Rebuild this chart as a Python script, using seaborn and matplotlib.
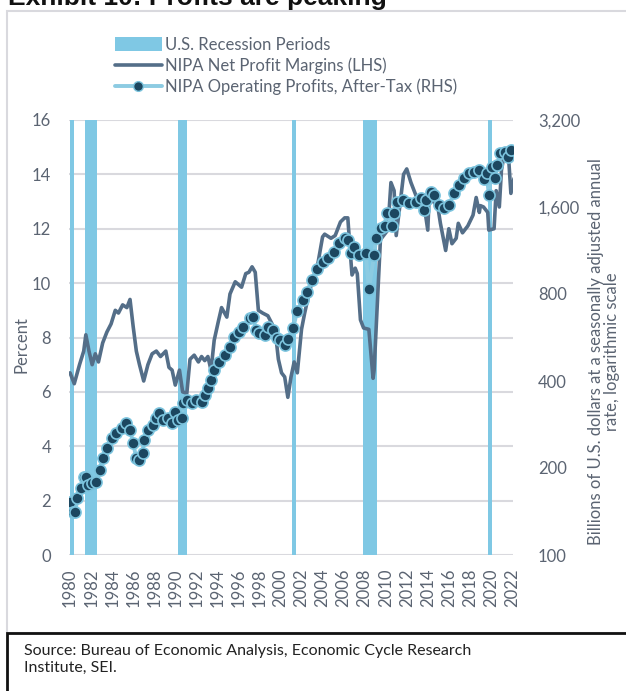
import matplotlib
matplotlib.use("Agg")
import matplotlib.pyplot as plt
import seaborn as sns
from matplotlib.patches import Rectangle, Patch
from matplotlib.lines import Line2D
from matplotlib.ticker import FixedLocator, FixedFormatter

# recession periods (decimal years)
rec_start = [1980.0, 1981.4, 1990.3, 2001.05, 2007.8, 2019.7]
rec_end = [1980.4, 1982.6, 1991.1, 2001.5, 2009.2, 2020.1]

# NIPA net profit margins, percent (LHS)
margin_year = [
    1980.0, 1980.4, 1980.9, 1981.3, 1981.5, 1981.8, 1982.1, 1982.4, 1982.7, 1983.1,
    1983.5, 1983.9, 1984.3, 1984.6, 1985.0, 1985.4, 1985.7, 1986.0, 1986.3, 1986.6,
    1987.0, 1987.4, 1987.8, 1988.2, 1988.6, 1989.1, 1989.4, 1989.7, 1990.0, 1990.4,
    1990.7, 1991.1, 1991.4, 1991.8, 1992.2, 1992.5, 1992.8, 1993.1, 1993.4, 1993.7,
    1994.1, 1994.4, 1994.9, 1995.2, 1995.7, 1996.3, 1996.7, 1997.0, 1997.3, 1997.6,
    1997.9, 1998.3, 1998.8, 1999.2, 1999.6, 1999.8, 2000.1, 2000.4, 2000.7, 2001.0,
    2001.3, 2001.6, 2002.0, 2002.3, 2002.7, 2003.1, 2003.5, 2004.0, 2004.2, 2004.8,
    2005.2, 2005.7, 2006.1, 2006.4, 2006.6, 2006.8, 2007.1, 2007.3, 2007.6, 2007.9,
    2008.4, 2008.8, 2008.9, 2009.3, 2009.5, 2010.2, 2010.5, 2010.8, 2011.0, 2011.3,
    2011.7, 2012.0, 2012.4, 2012.9, 2013.1, 2013.6, 2014.0, 2014.1, 2014.5, 2015.0,
    2015.2, 2015.7, 2016.0, 2016.3, 2016.7, 2016.9, 2017.3, 2017.8, 2018.3, 2018.6,
    2018.9, 2019.0, 2019.3, 2019.7, 2019.8, 2020.3, 2020.5, 2020.8, 2021.0, 2021.3,
    2021.7, 2021.9, 2022.2,
]
margin_pct = [
    6.7, 6.3, 7.0, 7.5, 8.1, 7.5, 7.0, 7.4, 7.1, 7.8,
    8.2, 8.5, 9.0, 8.9, 9.2, 9.1, 9.4, 8.4, 7.5, 7.0,
    6.4, 7.0, 7.4, 7.5, 7.3, 7.5, 6.9, 6.8, 6.25, 6.8,
    6.0, 5.95, 7.2, 7.35, 7.1, 7.3, 7.15, 7.3, 6.8, 7.9,
    8.6, 9.1, 8.75, 9.6, 10.05, 9.85, 10.35, 10.4, 10.6, 10.4,
    9.0, 8.9, 8.8, 8.5, 7.9, 7.2, 6.7, 6.55, 5.8, 6.55,
    7.1, 6.7, 8.3, 8.9, 9.6, 10.2, 10.6, 11.7, 11.8, 11.65,
    11.75, 12.25, 12.4, 12.4, 11.3, 10.3, 10.55, 10.35, 8.65, 8.35,
    8.3, 6.5, 6.8, 10.0, 11.6, 11.95, 13.7, 13.4, 11.75, 12.7,
    14.0, 14.2, 13.7, 13.2, 13.0, 13.0, 11.95, 12.9, 13.05, 12.7,
    12.2, 11.2, 12.0, 11.45, 11.65, 12.2, 11.85, 12.1, 12.5, 13.15,
    12.6, 12.85, 12.8, 12.6, 11.95, 12.0, 13.4, 12.8, 14.15, 14.8,
    14.5, 13.3, 13.85,
]

# NIPA operating profits after tax, billions of USD (RHS, log scale)
profit_year = [
    1980.0, 1980.3, 1980.5, 1980.7, 1981.0, 1981.3, 1981.5, 1981.7, 1982.1, 1982.5,
    1982.8, 1983.1, 1983.5, 1984.0, 1984.4, 1984.9, 1985.3, 1985.7, 1986.0, 1986.3,
    1986.6, 1986.9, 1987.0, 1987.4, 1987.9, 1988.2, 1988.5, 1988.8, 1989.3, 1989.7,
    1990.0, 1990.3, 1990.6, 1990.7, 1991.1, 1991.6, 1992.0, 1992.5, 1992.8, 1993.1,
    1993.4, 1993.7, 1994.2, 1994.7, 1995.2, 1995.6, 1996.1, 1996.4, 1997.1, 1997.4,
    1997.7, 1998.0, 1998.5, 1998.8, 1999.3, 1999.7, 2000.0, 2000.4, 2000.7, 2001.2,
    2001.6, 2002.1, 2002.5, 2003.0, 2003.5, 2004.0, 2004.5, 2005.1, 2005.6, 2006.1,
    2006.4, 2006.7, 2007.0, 2007.5, 2008.1, 2008.4, 2008.9, 2009.1, 2009.6, 2009.9,
    2010.1, 2010.6, 2010.8, 2011.1, 2011.6, 2012.2, 2012.9, 2013.4, 2013.6, 2013.8,
    2014.3, 2014.6, 2015.1, 2015.5, 2016.0, 2016.5, 2017.0, 2017.4, 2017.9, 2018.4,
    2018.9, 2019.3, 2019.6, 2019.8, 2020.1, 2020.4, 2020.6, 2020.9, 2021.3, 2021.6,
    2021.9,
]
profit_bn = [
    152, 141, 141, 157, 170, 186, 186, 175, 177, 179,
    197, 216, 234, 254, 264, 275, 286, 271, 244, 216,
    213, 225, 250, 271, 282, 298, 310, 293, 298, 286,
    312, 293, 298, 336, 344, 336, 344, 339, 358, 378,
    403, 437, 465, 492, 524, 570, 590, 614, 660, 665,
    600, 585, 577, 614, 600, 563, 555, 532, 560, 610,
    700, 760, 815, 895, 980, 1030, 1070, 1115, 1200, 1250,
    1230, 1110, 1165, 1090, 1110, 830, 1090, 1250, 1350, 1380,
    1530, 1380, 1520, 1660, 1690, 1650, 1660, 1720, 1560, 1690,
    1800, 1760, 1620, 1590, 1620, 1790, 1900, 2010, 2090, 2110,
    2150, 2000, 2100, 1760, 2200, 2010, 2230, 2460, 2480, 2380,
    2520,
]

left_ticks = [0, 2, 4, 6, 8, 10, 12, 14, 16]
right_ticks = [100, 200, 400, 800, 1600, 3200]
right_labels = ["100", "200", "400", "800", "1,600", "3,200"]
year_ticks = list(range(1980, 2023, 2))

REC_COLOR = "#7FC8E4"
MARGIN_COLOR = "#546E88"
PROFIT_LINE = "#8CCBE2"
PROFIT_MARK = "#1C4760"
TEXT_GRAY = "#5B6472"

W, H = 626, 691


def fx(px):
    return px / W


def fy(py):
    return 1 - py / H


def main():
    sns.set_theme(style="white")
    plt.rcParams["font.family"] = ["Lato", "DejaVu Sans"]

    fig = plt.figure(figsize=(W / 100, H / 100), dpi=100)
    ax = fig.add_axes([fx(69), fy(555), fx(513) - fx(69), fy(120) - fy(555)])
    ax2 = ax.twinx()

    # recession periods as full-height columns
    widths = [e - s for s, e in zip(rec_start, rec_end)]
    ax.bar(rec_start, [16] * len(rec_start), width=widths, align="edge",
           color=REC_COLOR, linewidth=0, zorder=1)

    sns.lineplot(x=margin_year, y=margin_pct, ax=ax, color=MARGIN_COLOR,
                 linewidth=2.6, legend=False, zorder=3)

    sns.lineplot(x=profit_year, y=profit_bn, ax=ax2, color=PROFIT_LINE,
                 linewidth=2.8, marker="o", markersize=8,
                 markerfacecolor=PROFIT_MARK, markeredgecolor="#7CC4DE",
                 markeredgewidth=1.2, legend=False, zorder=4)

    # left axis
    ax.set_xlim(1979.9, 2022.1)
    ax.set_ylim(0, 16)
    ax.set_yticks(left_ticks)
    ax.set_xticks(year_ticks)
    ax.set_xticklabels([str(y) for y in year_ticks], rotation=90)
    ax.yaxis.grid(True, color="#D9D9DE", linewidth=1.5)
    ax.xaxis.grid(False)
    ax.set_axisbelow(True)
    for s in ax.spines.values():
        s.set_visible(False)
    ax.tick_params(axis="both", length=0, labelsize=12, colors=TEXT_GRAY)
    ax.tick_params(axis="y", pad=13)
    ax.tick_params(axis="x", pad=10)
    ax.set_xlabel("")
    ax.set_ylabel("")

    # right axis, log scale
    ax2.set_yscale("log", base=2)
    ax2.set_ylim(100, 3200)
    ax2.yaxis.set_major_locator(FixedLocator(right_ticks))
    ax2.yaxis.set_major_formatter(FixedFormatter(right_labels))
    ax2.yaxis.set_minor_locator(FixedLocator([]))
    ax2.grid(False)
    for s in ax2.spines.values():
        s.set_visible(False)
    ax2.tick_params(axis="y", length=0, labelsize=12, colors=TEXT_GRAY, pad=18)
    ax2.set_ylabel("")

    fig.text(fx(22), fy(345), "Percent", rotation=90, ha="center", va="center",
             fontsize=12, color=TEXT_GRAY)
    fig.text(fx(604), fy(352),
             "Billions of U.S. dollars at a seasonally adjusted annual\nrate, logarithmic scale",
             rotation=90, ha="center", va="center", fontsize=12, color=TEXT_GRAY,
             linespacing=1.0)

    # legend
    handles = [
        Patch(facecolor=REC_COLOR, edgecolor="none"),
        Line2D([], [], color=MARGIN_COLOR, linewidth=2.6),
        Line2D([], [], color=PROFIT_LINE, linewidth=2.8, marker="o", markersize=7,
               markerfacecolor=PROFIT_MARK, markeredgecolor="#7CC4DE"),
    ]
    labels = ["U.S. Recession Periods", "NIPA Net Profit Margins (LHS)",
              "NIPA Operating Profits, After-Tax (RHS)"]
    leg = fig.legend(handles, labels, loc="upper left",
                     bbox_to_anchor=(fx(100), fy(22)), frameon=False,
                     fontsize=12, handlelength=2.8, handleheight=0.9,
                     handletextpad=0.2, labelspacing=0.28, markerfirst=True)
    for t in leg.get_texts():
        t.set_color(TEXT_GRAY)

    # frames: chart box and source box
    fig.add_artist(Rectangle((fx(7), fy(633)), 1.0, fy(11) - fy(633),
                             transform=fig.transFigure, fill=False,
                             edgecolor="#D9D9DE", linewidth=1.5))
    fig.add_artist(Rectangle((fx(7), fy(700)), 1.0, fy(633) - fy(700),
                             transform=fig.transFigure, fill=False,
                             edgecolor="#111111", linewidth=2.0))

    # title sits mostly above the top edge, as in the source screenshot
    fig.text(fx(8), fy(5), "Exhibit 10: Profits are peaking", ha="left",
             va="baseline", fontsize=19, fontweight="bold", color="#111111",
             family=["Liberation Sans", "DejaVu Sans"])

    fig.text(fx(24), fy(644),
             "Source: Bureau of Economic Analysis, Economic Cycle Research\nInstitute, SEI.",
             ha="left", va="top", fontsize=11.5, color="#222222", linespacing=1.25)

    fig.savefig("out.png", dpi=100)


if __name__ == "__main__":
    main()
